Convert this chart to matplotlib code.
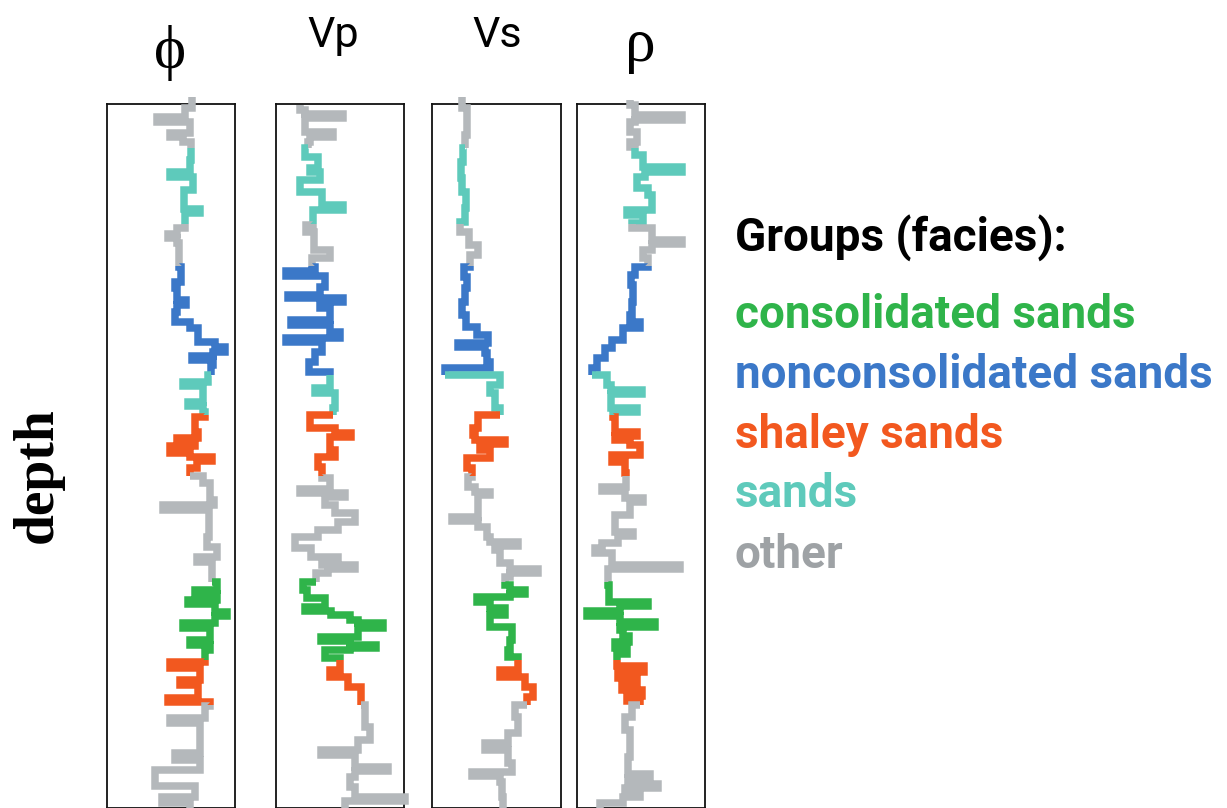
import numpy as np
import matplotlib
matplotlib.use("Agg")
import matplotlib.pyplot as plt

W, H, DPI = 1227, 808, 100

# facies groups and their colours
facies_names = ["consolidated sands", "nonconsolidated sands", "shaley sands", "sands", "other"]
facies_colors = ["#2fb44a", "#3b78c8", "#f2581f", "#5ecabb", "#b4b8bb"]
legend_colors = ["#2fb44a", "#3b78c8", "#f2581f", "#5ecabb", "#9ea2a5"]

# facies zonation (top depth of each zone, ft)
zone_top = [5990, 6044, 6120, 6162, 6271, 6311, 6372, 6478, 6556, 6601]
zone_facies = ["other", "sands", "other", "nonconsolidated sands", "sands",
               "shaley sands", "other", "consolidated sands", "shaley sands", "other"]
depth_base = 6704

# porosity log (%), step tops in ft
phi_depth = [5993, 6004, 6013, 6018, 6029, 6033, 6038, 6056, 6068, 6073,
             6086, 6105, 6109, 6124, 6130, 6134, 6139, 6163, 6178, 6184,
             6196, 6201, 6208, 6218, 6224, 6238, 6243, 6248, 6252, 6256,
             6261, 6271, 6278, 6282, 6298, 6302, 6308, 6313, 6328, 6334,
             6338, 6342, 6349, 6353, 6357, 6364, 6372, 6379, 6396, 6401,
             6406, 6433, 6443, 6453, 6458, 6478, 6486, 6490, 6496, 6500,
             6508, 6512, 6519, 6524, 6536, 6541, 6546, 6558, 6564, 6576,
             6581, 6594, 6598, 6602, 6614, 6619, 6649, 6656, 6666, 6682,
             6693, 6699]
phi_value = [42.5, 39, 25, 41.5, 31.5, 38, 42, 41.5, 31.5, 43,
             38.5, 46.5, 39, 35, 30.5, 35, 36, 37, 34, 35,
             39.5, 35, 34, 41.5, 45.5, 54, 59, 53, 42.5, 53,
             52, 50.5, 38, 48, 40.5, 48, 49, 44, 45.5, 35,
             44, 31.5, 41.5, 52.5, 45, 41.5, 48, 51.5, 53.5, 28,
             51, 50, 55, 45, 52.5, 55, 44, 55, 40.5, 54,
             60, 54, 38, 51.5, 41.5, 51.5, 49, 31.5, 46.5, 36.5,
             45.5, 30.5, 51.5, 49, 31.5, 46.5, 34, 46.5, 24, 44,
             27.5, 41.5]

# P-wave velocity (m/s)
vp_depth = [6001, 6006, 6010, 6014, 6028, 6033, 6038, 6044, 6053, 6064,
            6068, 6076, 6088, 6101, 6106, 6121, 6128, 6146, 6154, 6163,
            6167, 6172, 6183, 6191, 6194, 6198, 6204, 6216, 6221, 6228,
            6234, 6238, 6248, 6258, 6268, 6284, 6289, 6304, 6311, 6324,
            6329, 6333, 6346, 6353, 6363, 6374, 6385, 6389, 6393, 6401,
            6409, 6418, 6426, 6433, 6444, 6453, 6457, 6461, 6465, 6469,
            6478, 6486, 6494, 6503, 6507, 6511, 6516, 6519, 6524, 6533,
            6537, 6541, 6544, 6546, 6554, 6566, 6573, 6583, 6601, 6623,
            6636, 6646, 6651, 6663, 6667, 6673, 6683, 6693, 6697]
vp_value = [1980, 2080, 2840, 2080, 2640, 2180, 2140, 2080, 2340, 2180,
            2380, 1980, 2420, 2840, 2240, 2100, 2260, 2580, 2220, 2280,
            1700, 2480, 2380, 1740, 2840, 2380, 2580, 1800, 2580, 2780,
            1700, 2420, 2280, 2160, 2580, 2280, 2680, 2640, 2180, 2680,
            3000, 2580, 2680, 2340, 2420, 2580, 1980, 2880, 2480, 2680,
            3080, 2740, 2340, 1880, 2200, 2740, 2420, 3080, 2540, 2300,
            2040, 2120, 2480, 2080, 2600, 2980, 3140, 3640, 3140, 2400,
            2980, 3500, 2980, 2480, 2780, 2580, 2940, 3200, 3280, 3380,
            3140, 2400, 3080, 3740, 3080, 2980, 3080, 4080, 2880]

# S-wave velocity (m/s)
vs_depth = [5993, 6004, 6031, 6044, 6058, 6074, 6088, 6104, 6118, 6128,
            6141, 6151, 6163, 6173, 6184, 6198, 6211, 6223, 6231, 6239,
            6243, 6249, 6258, 6264, 6271, 6281, 6289, 6304, 6311, 6324,
            6331, 6336, 6340, 6346, 6354, 6364, 6373, 6383, 6388, 6391,
            6413, 6417, 6423, 6433, 6438, 6442, 6446, 6459, 6465, 6469,
            6473, 6481, 6486, 6490, 6493, 6498, 6504, 6511, 6523, 6536,
            6546, 6553, 6566, 6573, 6583, 6593, 6601, 6613, 6629, 6639,
            6646, 6659, 6668, 6672, 6678, 6693]
vs_value = [500, 550, 530, 510, 490, 500, 540, 530, 480, 570,
            660, 580, 520, 550, 530, 500, 540, 650, 760, 460,
            730, 750, 780, 330, 880, 780, 830, 880, 660, 610,
            630, 930, 680, 780, 550, 600, 560, 630, 780, 660,
            400, 660, 750, 780, 1060, 830, 880, 980, 1260, 980,
            930, 980, 1130, 980, 650, 780, 930, 780, 1000, 980,
            960, 1060, 880, 1130, 1210, 1150, 1030, 1060, 960, 730,
            960, 1000, 600, 880, 900, 910]

# bulk density (g/cc)
rho_depth = [5996, 6001, 6011, 6016, 6018, 6028, 6038, 6043, 6051, 6063,
             6068, 6073, 6084, 6091, 6106, 6111, 6119, 6124, 6136, 6140,
             6146, 6154, 6163, 6171, 6181, 6198, 6211, 6218, 6224, 6236,
             6244, 6254, 6264, 6271, 6281, 6286, 6290, 6304, 6308, 6313,
             6328, 6332, 6336, 6341, 6351, 6358, 6369, 6383, 6387, 6394,
             6398, 6411, 6428, 6432, 6439, 6444, 6449, 6461, 6465, 6481,
             6498, 6502, 6507, 6512, 6518, 6523, 6526, 6532, 6538, 6544,
             6550, 6556, 6562, 6568, 6574, 6580, 6586, 6592, 6597, 6601,
             6613, 6626, 6653, 6670, 6674, 6680, 6684, 6688, 6693, 6699]
rho_value = [2.13, 2.18, 2.65, 2.18, 2.13, 2.20, 2.13, 2.18, 2.26, 2.65,
             2.28, 2.20, 2.31, 2.35, 2.10, 2.26, 2.15, 2.35, 2.65, 2.35,
             2.26, 2.31, 2.18, 2.14, 2.16, 2.15, 2.13, 2.23, 2.06, 1.95,
             1.88, 1.80, 1.75, 1.90, 1.94, 2.25, 1.94, 2.20, 1.96, 1.98,
             2.20, 1.98, 2.13, 2.23, 1.95, 2.08, 2.09, 1.85, 2.08, 2.26,
             2.13, 1.98, 2.16, 2.01, 1.85, 1.78, 1.95, 2.63, 1.91, 1.92,
             2.31, 2.03, 1.70, 2.03, 2.38, 2.03, 2.06, 2.12, 1.98, 2.10,
             2.00, 2.00, 2.27, 2.01, 2.20, 2.05, 2.25, 2.10, 2.23, 2.15,
             2.08, 2.13, 2.11, 2.33, 2.11, 2.41, 2.08, 2.23, 2.06, 1.83]

track_titles = ["\u03d5", "Vp", "Vs", "\u03c1"]
track_xlim = [(0, 64), (1500, 4060), (200, 1490), (1.60, 2.88)]
track_px = [(107, 235), (276, 404), (432, 561), (577, 705)]
tracks = [(phi_depth, phi_value), (vp_depth, vp_value),
          (vs_depth, vs_value), (rho_depth, rho_value)]

color_of = dict(zip(facies_names, facies_colors))


def draw_log(ax, tops, vals, base):
    tops = np.asarray(tops, float)
    vals = np.asarray(vals, float)
    # split the step curve at zone boundaries so each piece gets one colour
    extra = [z for z in zone_top if tops[0] < z < base and z not in tops]
    all_tops = np.sort(np.concatenate([tops, extra]))
    all_vals = vals[np.searchsorted(tops, all_tops, side="right") - 1]
    bottoms = np.append(all_tops[1:], base)
    zi = np.clip(np.searchsorted(zone_top, all_tops, side="right") - 1, 0, len(zone_top) - 1)
    n = len(all_tops)
    s = 0
    while s < n:
        e = s
        while e + 1 < n and zi[e + 1] == zi[s]:
            e += 1
        xs, ys = [], []
        if s > 0:
            xs.append(all_vals[s - 1])
            ys.append(all_tops[s])
        for i in range(s, e + 1):
            xs += [all_vals[i], all_vals[i]]
            ys += [all_tops[i], bottoms[i]]
        ax.plot(xs, ys, color=color_of[zone_facies[zi[s]]], lw=5.4,
                clip_on=False, solid_joinstyle="miter", solid_capstyle="butt")
        s = e + 1


fig = plt.figure(figsize=(W / DPI, H / DPI), dpi=DPI)
fig.patch.set_facecolor("white")

top_px = 104
for (x0, x1), (d, v), xl, title in zip(track_px, tracks, track_xlim, track_titles):
    ax = fig.add_axes([x0 / W, 0, (x1 - x0) / W, (H - top_px) / H])
    ax.set_xlim(*xl)
    ax.set_ylim(depth_base, 6000)
    ax.set_xticks([])
    ax.set_yticks([])
    for sp in ax.spines.values():
        sp.set_linewidth(1.3)
        sp.set_color("#111111")
        sp.set_zorder(0.5)
    draw_log(ax, d, v, depth_base)


def fx(px):
    return px / W


def fy(py):
    return 1 - py / H


# track headers
fig.text(fx(170), fy(53), track_titles[0], ha="center", va="center",
         fontsize=44, family=["Liberation Serif", "DejaVu Serif"])
fig.text(fx(333), fy(47), track_titles[1], ha="center", va="baseline",
         fontsize=31, family="Roboto")
fig.text(fx(497), fy(47), track_titles[2], ha="center", va="baseline",
         fontsize=31, family="Roboto")
fig.text(fx(640), fy(46), track_titles[3], ha="center", va="center",
         fontsize=44, family=["Liberation Serif", "DejaVu Serif"])

# depth axis label
fig.text(fx(38), fy(475), "depth", rotation=90, ha="center", va="center",
         fontsize=40, fontweight="bold", family="Liberation Serif")

# facies legend
fig.text(fx(735), fy(252), "Groups (facies):", ha="left", va="baseline",
         fontsize=33, fontweight="bold", family="Roboto", color="black")
legend_base = [328, 388, 448, 507, 568]
for name, col, yb in zip(facies_names, legend_colors, legend_base):
    fig.text(fx(735), fy(yb), name, ha="left", va="baseline",
             fontsize=33, fontweight="bold", family="Roboto", color=col)

fig.savefig("out.png", dpi=DPI, facecolor="white")
